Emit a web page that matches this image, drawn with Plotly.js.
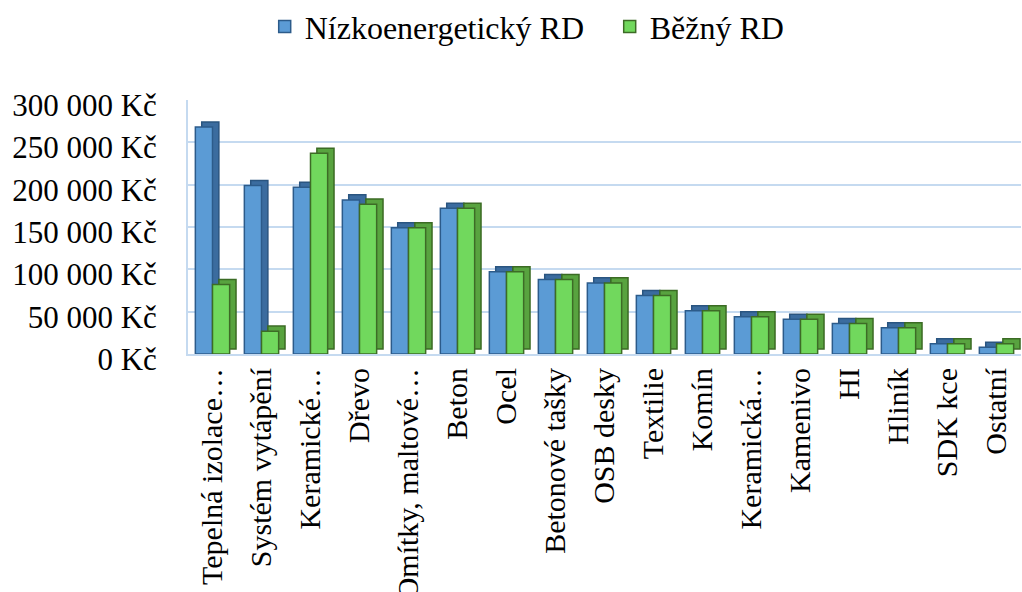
<!DOCTYPE html>
<html>
<head>
<meta charset="utf-8">
<script src="https://cdn.plot.ly/plotly-3.0.1.min.js"></script>
<style>html,body{margin:0;padding:0;background:#fff;}#chart{width:1022px;height:592px;}</style>
</head>
<body>
<div id="chart"></div>
<script>
// ---- data ----
const categories = ["Tepelná izolace…","Systém vytápění","Keramické…","Dřevo","Omítky, maltové…","Beton","Ocel","Betonové tašky","OSB desky","Textilie","Komín","Keramická…","Kamenivo","HI","Hliník","SDK kce","Ostatní"];
const nizkoenergeticky = [268000,199000,197000,182000,149000,172000,97000,88000,84000,69000,51000,44000,41000,36000,31000,12000,8000];
const bezny = [82000,27000,237000,177000,149000,172000,97000,88000,84000,69000,51000,44000,41000,36000,31000,12000,12000];
const tickValues = [0,50000,100000,150000,200000,250000,300000];
const tickLabels = ["0 Kč","50 000 Kč","100 000 Kč","150 000 Kč","200 000 Kč","250 000 Kč","300 000 Kč"];
const seriesNames = ["Nízkoenergetický RD","Běžný RD"];

// ---- style ----
const W = 0.35;          // front face width (category units)
const DX = 0.13;         // depth shift (category units)
const DY = 6000;         // depth shift (value units)
const font = "Liberation Serif, Times New Roman, serif";

function front(vals, name, color, lineColor, offset) {
  return {type:'bar', x:categories, y:vals, name:name, width:W, offset:offset,
    marker:{color:color, line:{color:lineColor, width:1.5}}, hoverinfo:'skip'};
}
function depth(vals, color, lineColor, offset) {
  return {type:'bar', x:categories, y:vals, base:DY, width:W, offset:offset+DX, showlegend:false,
    marker:{color:color, line:{color:lineColor, width:1.5}}, hoverinfo:'skip'};
}

const traces = [
  depth(nizkoenergeticky, '#3b6c9f', '#2a5580', -W),
  front(nizkoenergeticky, seriesNames[0], '#5b9bd5', '#2c5b8a', -W),
  depth(bezny, '#58a33f', '#3b6b24', 0),
  front(bezny, seriesNames[1], '#71d85d', '#3d6b26', 0)
];

const layout = {
  width:1022, height:592,
  margin:{l:188, r:1, t:100, b:238},
  paper_bgcolor:'#fff', plot_bgcolor:'#fff',
  barmode:'overlay',
  font:{family:font, size:30, color:'#000'},
  showlegend:true,
  legend:{orientation:'h', xref:'container', yref:'container', x:0.259, y:0.955, xanchor:'left', yanchor:'middle',
    font:{family:font, size:32, color:'#000'}, itemwidth:30, entrywidth:300, traceorder:'normal'},
  xaxis:{type:'category', tickangle:-90, showgrid:false, showline:true, linecolor:'#c5daf0', linewidth:2,
    ticks:'', ticklabelstandoff:0, tickfont:{family:font, size:30, color:'#000'}, range:[-0.5,16.5], fixedrange:true},
  yaxis:{range:[0,300000], tickvals:tickValues, ticktext:tickLabels, showgrid:true, gridcolor:'#c5daf0', gridwidth:2,
    showline:true, linecolor:'#c5daf0', linewidth:2, zeroline:false, ticks:'', ticklabelstandoff:23, ticklabelshift:5,
    tickfont:{family:font, size:31, color:'#000'}, fixedrange:true}
};

Plotly.newPlot('chart', traces, layout, {displayModeBar:false, staticPlot:true});
</script>
</body>
</html>
